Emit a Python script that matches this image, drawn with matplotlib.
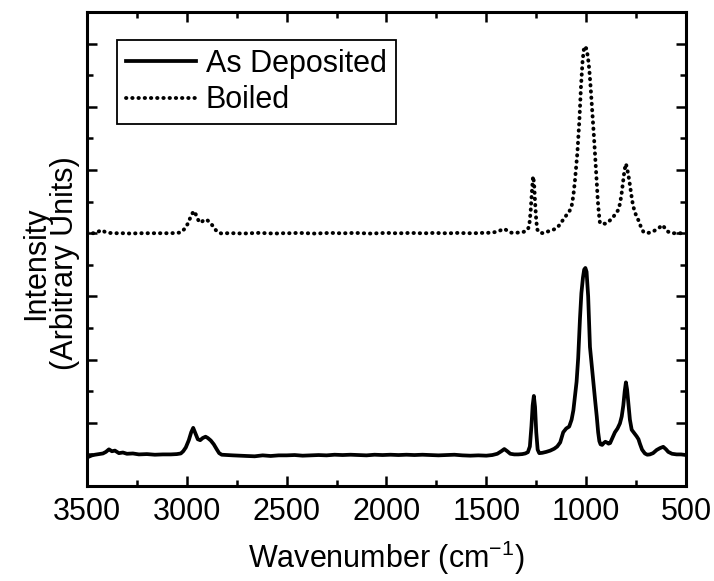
import matplotlib
matplotlib.use('agg')
import matplotlib.pyplot as plt
from matplotlib.ticker import MultipleLocator, NullFormatter

plt.rcParams['font.family'] = ['Liberation Sans', 'DejaVu Sans']

# As Deposited (solid)
wn_dep = [3500, 3490, 3475, 3460, 3440, 3420, 3405, 3390, 3375, 3360, 3340, 3320, 3300, 3270, 3240, 3200, 3160, 3120, 3080, 3050,
          3030, 3018, 3005, 2990, 2978, 2968, 2958, 2945, 2933, 2920, 2906, 2895, 2880, 2865, 2850, 2838, 2825, 2800,
          2770, 2740, 2700, 2660, 2620, 2580, 2540, 2500, 2460, 2420, 2380, 2340, 2300, 2260, 2220, 2180, 2140, 2100,
          2060, 2020, 1980, 1940, 1900, 1860, 1820, 1780, 1740, 1700, 1660, 1620, 1580, 1540, 1500,
          1470, 1445, 1425, 1410, 1395, 1380, 1360, 1340, 1320, 1305, 1292, 1282, 1274, 1268, 1262, 1256, 1250, 1243, 1235,
          1220, 1200, 1180, 1160, 1145, 1130, 1115, 1100, 1085, 1073, 1064, 1056, 1048, 1040, 1031, 1024, 1016, 1010, 1004,
          998, 990, 981, 972, 964, 955, 947, 940, 934, 928, 920, 912, 904, 897,
          888, 880, 870, 856, 843, 831, 822, 814, 807, 801, 795, 789, 781, 772, 760, 747, 738, 731, 720, 706, 694, 681,
          665, 647, 630, 614, 600, 589, 570, 547, 525, 500]
int_dep = [0.90, 0.93, 0.97, 0.99, 1.01, 1.03, 1.08, 1.16, 1.10, 1.12, 1.04, 1.06, 1.02, 1.03, 1.00, 1.01, 0.99, 1.00, 1.00, 1.01,
           1.03, 1.10, 1.22, 1.45, 1.70, 1.84, 1.68, 1.48, 1.45, 1.52, 1.56, 1.52, 1.44, 1.32, 1.16, 1.04, 0.99, 0.98,
           0.97, 0.96, 0.95, 0.94, 0.97, 0.95, 0.97, 0.97, 0.98, 0.96, 0.97, 0.98, 0.97, 0.99, 0.98, 0.99, 0.98, 0.97,
           0.99, 0.98, 0.99, 0.98, 0.99, 0.98, 0.99, 0.98, 0.97, 0.98, 0.99, 0.97, 0.96, 0.97, 0.96,
           0.98, 1.02, 1.10, 1.17, 1.10, 1.02, 1.00, 1.00, 1.01, 1.03, 1.07, 1.25, 1.90, 2.55, 2.85, 2.50, 1.70, 1.15, 1.04,
           1.05, 1.08, 1.12, 1.18, 1.25, 1.38, 1.70, 1.82, 1.88, 2.10, 2.40, 2.85, 3.30, 4.05, 5.30, 6.10, 6.60, 6.85, 6.90,
           6.78, 6.00, 4.40, 3.80, 3.25, 2.70, 2.20, 1.70, 1.42, 1.32, 1.30, 1.36, 1.40, 1.38,
           1.34, 1.36, 1.50, 1.70, 1.82, 1.98, 2.20, 2.55, 3.00, 3.28, 3.05, 2.65, 2.10, 1.78, 1.68, 1.57, 1.48, 1.34, 1.15, 1.03, 0.99, 1.00,
           1.04, 1.14, 1.20, 1.24, 1.16, 1.08, 1.02, 1.00, 1.00, 0.98]

# Boiled (dotted)
wn_boil = [3500, 3490, 3470, 3450, 3435, 3425, 3410, 3390, 3360, 3320, 3280, 3240, 3200, 3160, 3120, 3080, 3050,
           3035, 3024, 3010, 2995, 2982, 2970, 2962, 2952, 2940, 2930, 2918, 2906, 2895, 2882, 2868, 2855, 2842, 2825, 2800,
           2760, 2720, 2680, 2640, 2600, 2560, 2520, 2480, 2440, 2400, 2360, 2320, 2280, 2240, 2200, 2160, 2120, 2080,
           2040, 2000, 1960, 1920, 1880, 1840, 1800, 1760, 1720, 1680, 1640, 1600, 1560, 1520, 1500,
           1470, 1445, 1425, 1410, 1395, 1380, 1360, 1340, 1320, 1305, 1292, 1285, 1278, 1272, 1266, 1261, 1256, 1250, 1245, 1235,
           1215, 1198, 1181, 1165, 1148, 1135, 1123, 1110, 1098, 1085, 1073, 1064, 1056, 1050, 1044, 1039, 1034, 1030, 1026,
           1022, 1018, 1012, 1006,
           1000, 994, 989, 984, 978, 972, 966, 961, 956, 951, 946, 942, 936, 931, 922, 914, 905, 897,
           885, 874, 864, 852, 839, 830, 822, 815, 808, 801, 795, 789, 784, 776, 770, 764, 752, 739, 727, 714, 698, 681,
           664, 647, 633, 619, 608, 597, 580, 564, 540, 520, 500]
int_boil = [8.05, 8.02, 8.00, 8.02, 8.08, 8.10, 8.04, 8.01, 8.00, 8.00, 7.99, 8.00, 8.00, 8.00, 8.00, 8.00, 8.01,
            8.02, 8.05, 8.15, 8.30, 8.50, 8.65, 8.70, 8.55, 8.38, 8.33, 8.40, 8.44, 8.40, 8.32, 8.22, 8.10, 8.02, 7.99, 8.00,
            8.00, 7.99, 8.00, 8.01, 8.00, 7.99, 8.00, 8.00, 8.01, 8.00, 7.99, 8.00, 8.01, 8.00, 8.00, 8.01, 8.00, 7.99,
            8.00, 8.01, 8.00, 8.00, 8.01, 8.00, 8.00, 8.01, 8.00, 8.00, 8.01, 8.00, 8.00, 8.01, 8.01,
            8.02, 8.05, 8.10, 8.14, 8.08, 8.02, 8.01, 8.02, 8.03, 8.06, 8.12, 8.25, 8.70, 9.30, 9.80, 9.60, 9.00, 8.40, 8.12, 8.02,
            8.00, 8.04, 8.08, 8.11, 8.16, 8.25, 8.36, 8.47, 8.58, 8.68, 8.85, 9.20, 9.68, 10.10, 10.55, 11.05, 11.58, 12.10, 12.64,
            13.05, 13.45, 13.80, 13.92,
            13.85, 13.68, 13.45, 13.15, 12.65, 12.10, 11.55, 11.05, 10.55, 10.00, 9.50, 9.05, 8.60, 8.32, 8.30, 8.31, 8.30, 8.32,
            8.38, 8.45, 8.52, 8.62, 8.74, 8.95, 9.28, 9.65, 10.00, 10.20, 10.05, 9.85, 9.66, 9.30, 9.05, 8.84, 8.60, 8.42, 8.22, 8.05, 8.00, 8.02,
            8.06, 8.12, 8.18, 8.26, 8.18, 8.08, 8.01, 8.00, 8.00, 8.00, 8.00]

fig = plt.figure(figsize=(7.14, 5.81), dpi=100)
ax = fig.add_axes([0.1218, 0.1635, 0.839, 0.8158])

ax.plot(wn_dep, int_dep, color='black', linewidth=2.7, solid_joinstyle='round',
        label='As Deposited')
ax.plot(wn_boil, int_boil, color='black', linewidth=2.8, linestyle=(0, (0.1, 1.5)),
        dash_capstyle='round', label='Boiled')

ax.set_xlim(3500, 500)
ax.set_ylim(0, 15)
ax.xaxis.set_major_locator(MultipleLocator(500))
ax.xaxis.set_minor_locator(MultipleLocator(250))
ax.yaxis.set_major_locator(MultipleLocator(2))
ax.yaxis.set_minor_locator(MultipleLocator(1))
ax.yaxis.set_major_formatter(NullFormatter())

ax.tick_params(which='both', direction='in', top=True, right=True, width=1.8, labelsize=22, pad=8)
ax.tick_params(which='major', length=7)
ax.tick_params(which='minor', length=4)
for sp in ax.spines.values():
    sp.set_linewidth(2.2)

ax.set_xlabel('Wavenumber (cm$^{\\mathregular{-1}}$)', fontsize=22, labelpad=8)
ax.set_ylabel('Intensity\n(Arbitrary Units)', fontsize=22, linespacing=0.92)
ax.yaxis.set_label_coords(-0.012, 0.47)

leg = ax.legend(loc='upper left', bbox_to_anchor=(0.05, 0.941), borderaxespad=0, fontsize=22,
                frameon=True, fancybox=False, framealpha=1, edgecolor='black',
                handlelength=2.3, handletextpad=0.3, labelspacing=0.2, borderpad=0.3)
leg.get_frame().set_linewidth(1.3)

fig.savefig('out.png', dpi=100)
